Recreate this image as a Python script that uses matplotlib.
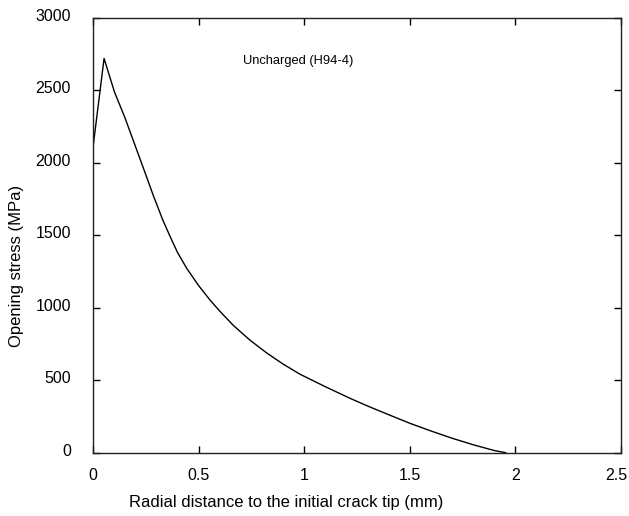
import numpy as np
import matplotlib
matplotlib.use('Agg')
import matplotlib.pyplot as plt
import matplotlib.transforms as mtransforms

plt.rcParams['font.family'] = ['Liberation Sans', 'DejaVu Sans']

# Opening stress vs radial distance, uncharged specimen
distance_mm = [0.0, 0.052, 0.101, 0.152, 0.207, 0.25, 0.286, 0.33, 0.365, 0.4,
               0.444, 0.5, 0.554, 0.6, 0.664, 0.743, 0.822, 0.9, 0.98, 1.1,
               1.217, 1.3, 1.4, 1.5, 1.6, 1.7, 1.8, 1.9, 1.955]
stress_mpa = [2110, 2718, 2488, 2305, 2086, 1915, 1770, 1605, 1490, 1380,
              1270, 1152, 1052, 976, 878, 776, 688, 611, 541, 455,
              375, 322, 262, 203, 150, 100, 55, 15, 0]

x_ticks = [0, 0.5, 1, 1.5, 2, 2.5]
x_ticklabels = ['0', '0.5', '1', '1.5', '2', '2.5']
y_ticks = [0, 500, 1000, 1500, 2000, 2500, 3000]

fig = plt.figure(figsize=(6.29, 5.16), dpi=100)
ax = fig.add_axes([0.148, 0.1227, 0.839, 0.8433])

ax.plot(distance_mm, stress_mpa, color='black', linewidth=1.0)

ax.set_xlim(0, 2.5)
ax.set_ylim(0, 3000)
ax.set_xticks(x_ticks)
ax.set_xticklabels(x_ticklabels)
ax.set_yticks(y_ticks)
ax.tick_params(direction='in', length=5, width=1, top=True, right=True,
               labelsize=11.5)
ax.tick_params(axis='x', pad=11)
ax.tick_params(axis='y', pad=16)

for s in ax.spines.values():
    s.set_linewidth(1.0)
    s.set_color('#222222')

# nudge tick labels like the original (y labels sit a bit high, last x label pulled in)
up = mtransforms.ScaledTranslation(0, 3 / 100, fig.dpi_scale_trans)
for lab in ax.get_yticklabels():
    lab.set_transform(lab.get_transform() + up)
left = mtransforms.ScaledTranslation(-5 / 100, 0, fig.dpi_scale_trans)
last = ax.get_xticklabels()[-1]
last.set_transform(last.get_transform() + left)

ax.set_xlabel('Radial distance to the initial crack tip (mm)', fontsize=12)
ax.xaxis.set_label_coords(0.366, -0.098)
ax.set_ylabel('Opening stress (MPa)', fontsize=12)
ax.yaxis.set_label_coords(-0.13, 0.43)

ax.text(0.71, 2700, 'Uncharged (H94-4)', fontsize=9.3, ha='left', va='center')

fig.savefig('out.png', dpi=100)
